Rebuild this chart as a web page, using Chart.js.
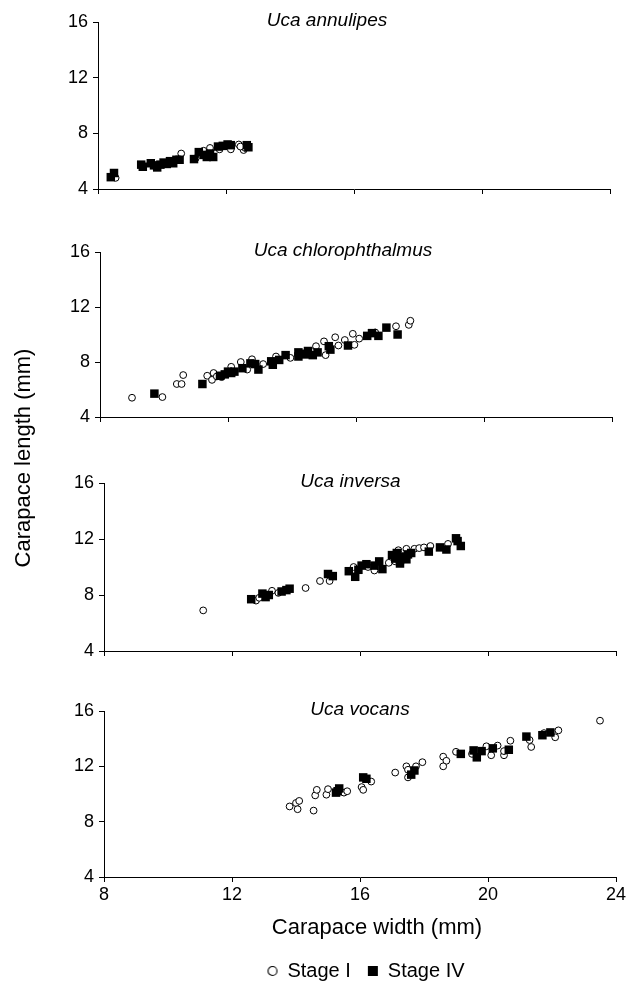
<!DOCTYPE html>
<html>
<head>
<meta charset="utf-8">
<script src="https://cdn.jsdelivr.net/npm/chart.js@4.4.1/dist/chart.umd.min.js"></script>
<style>
html,body{margin:0;padding:0;background:#fff;overflow:hidden;width:634px;height:983px;position:relative;}
canvas{position:absolute;left:0;top:0;}
</style>
</head>
<body>
<canvas id="c1" width="634" height="983"></canvas>
<canvas id="c2" width="634" height="983"></canvas>
<canvas id="c3" width="634" height="983"></canvas>
<canvas id="c4" width="668" height="995"></canvas>
<script>
// ---------- data ----------
const speciesNames = ['Uca annulipes', 'Uca chlorophthalmus', 'Uca inversa', 'Uca vocans'];
const seriesNames = ['Stage I', 'Stage IV'];
const xTickValues = [8, 12, 16, 20, 24];
const yTickValues = [4, 8, 12, 16];
const xAxisTitle = 'Carapace width (mm)';
const yAxisTitle = 'Carapace length (mm)';

// [carapace width, carapace length]
const annulipesStageI = [
  [8.55,4.8],[10.2,5.95],[10.6,6.55],[11.05,6.2],[11.3,6.75],[11.5,6.95],[11.45,6.45],
  [11.8,6.85],[12.15,6.85],[12.4,7.2],[12.55,6.8],[12.6,6.95],[12.45,7.05]
];
const annulipesStageIV = [
  [8.4,4.85],[8.5,5.15],[9.35,5.75],[9.4,5.6],[9.65,5.85],[9.75,5.7],[9.85,5.55],[9.95,5.75],
  [10.05,5.9],[10.15,5.8],[10.25,6.0],[10.35,5.85],[10.45,6.1],[10.55,6.1],[11.0,6.15],
  [11.15,6.65],[11.3,6.45],[11.4,6.3],[11.5,6.55],[11.6,6.3],[11.75,7.05],[11.9,7.1],
  [12.05,7.2],[12.15,7.15],[12.65,7.15],[12.7,7.0]
];
const chlorophthalmusStageI = [
  [9.0,5.4],[9.95,5.45],[10.4,6.4],[10.55,6.4],[10.6,7.05],[11.35,7.0],[11.5,6.7],[11.55,7.2],
  [11.65,6.95],[11.8,6.9],[12.1,7.65],[12.4,8.0],[12.6,7.45],[12.75,8.2],[13.1,7.85],[13.5,8.4],
  [13.95,8.3],[14.75,9.15],[15.0,9.5],[15.05,8.5],[15.35,9.8],[15.45,9.2],[15.65,9.6],[15.9,10.05],
  [15.95,9.25],[16.1,9.7],[16.6,10.15],[17.25,10.6],[17.65,10.7],[17.7,11.0],[14.6,8.8]
];
const chlorophthalmusStageIV = [
  [9.7,5.7],[11.2,6.4],[11.75,7.0],[11.9,7.1],[12.0,7.3],[12.1,7.2],[12.2,7.3],[12.45,7.55],
  [12.7,7.9],[12.85,7.85],[12.95,7.45],[13.35,8.05],[13.4,7.8],[13.6,8.15],[13.8,8.5],[14.2,8.7],
  [14.35,8.6],[14.5,8.8],[14.2,8.4],[14.4,8.55],[14.65,8.5],[14.8,8.7],[15.15,9.15],[15.2,8.9],
  [15.75,9.2],[16.35,9.9],[16.5,10.1],[16.7,9.9],[16.95,10.5],[17.3,10.0]
];
const inversaStageI = [
  [11.1,6.9],[12.75,7.6],[12.85,7.8],[13.25,8.3],[13.45,8.15],[14.3,8.5],[14.75,9.0],[15.05,9.0],
  [15.8,10.0],[16.25,10.0],[16.45,9.75],[16.9,10.3],[17.1,10.4],[17.2,11.2],[17.45,11.3],
  [17.7,11.3],[17.85,11.35],[18.0,11.4],[18.2,11.5],[18.75,11.65]
];
const inversaStageIV = [
  [12.6,7.7],[12.95,8.1],[13.05,7.85],[13.15,8.0],[13.55,8.25],[13.7,8.35],[13.8,8.45],[15.0,9.5],
  [15.15,9.35],[15.65,9.7],[15.85,9.3],[15.95,9.8],[16.05,10.1],[16.2,10.2],[16.45,10.1],
  [16.6,10.4],[16.7,9.85],[17.0,10.85],[17.1,10.6],[17.15,11.0],[17.25,10.5],[17.25,10.25],
  [17.35,10.75],[17.45,10.55],[17.5,10.9],[17.6,11.0],[18.15,11.1],[18.5,11.4],[18.7,11.25],
  [19.0,12.05],[19.05,11.85],[19.15,11.5]
];
const vocansStageI = [
  [13.8,9.1],[14.0,9.35],[14.05,8.9],[14.1,9.5],[14.55,8.8],[14.6,9.9],[14.65,10.3],[14.95,9.95],
  [15.0,10.35],[15.5,10.1],[15.6,10.2],[16.05,10.5],[16.1,10.3],[16.35,10.9],[17.1,11.55],
  [17.45,12.0],[17.5,11.75],[17.5,11.2],[17.75,12.0],[17.95,12.3],[18.6,12.7],[18.7,12.4],
  [18.6,12.0],[19.0,13.05],[19.5,12.9],[19.95,13.45],[20.1,12.8],[20.3,13.5],[20.5,12.8],
  [20.5,13.1],[20.7,13.85],[21.3,13.9],[21.35,13.4],[21.75,14.4],[22.1,14.1],[22.2,14.6],[23.5,15.3]
];
const vocansStageIV = [
  [15.25,10.1],[15.3,10.2],[15.35,10.4],[16.1,11.2],[16.2,11.1],[17.6,11.4],[17.7,11.7],
  [19.15,12.9],[19.55,13.15],[19.65,12.65],[19.8,13.1],[20.15,13.3],[20.65,13.2],[21.2,14.15],
  [21.7,14.25],[21.95,14.45]
];

// ---------- layout / style ----------
const FONT = '"Liberation Sans", Arial, Helvetica, sans-serif';
const INK = '#000';
const panels = [
  {id: 'c1', left: 98,  top: 22,  bottom: 189, titleX: 327,   data: [annulipesStageI, annulipesStageIV]},
  {id: 'c2', left: 100, top: 252, bottom: 417, titleX: 343,   data: [chlorophthalmusStageI, chlorophthalmusStageIV]},
  {id: 'c3', left: 104, top: 483, bottom: 651, titleX: 350.5, data: [inversaStageI, inversaStageIV]},
  {id: 'c4', left: 104, top: 711, bottom: 877, titleX: 360,   data: [vocansStageI, vocansStageIV]}
];
const PLOT_W = 512, Y_AXIS_W = 40, TICK_LEN = 5;
const LAST_X_AXIS_H = 67, LEGEND_H = 47;

function markerCanvas(kind) {
  const c = document.createElement('canvas');
  c.width = 12; c.height = 12;
  const g = c.getContext('2d');
  if (kind === 'circle') {
    g.beginPath(); g.arc(6, 6, 4.5, 0, Math.PI * 2);
    g.fillStyle = '#fff'; g.fill();
    g.lineWidth = 1.1; g.strokeStyle = INK; g.stroke();
  } else {
    g.fillStyle = INK; g.fillRect(1, 1, 10, 10);
  }
  return c;
}
const legendMarkers = [markerCanvas('circle'), markerCanvas('square')];

const panelTitlePlugin = {
  id: 'panelTitle',
  afterDraw(chart, args, opts) {
    if (!opts || !opts.text) return;
    const ctx = chart.ctx;
    ctx.save();
    ctx.font = 'italic 19px ' + FONT;
    ctx.fillStyle = INK;
    ctx.textAlign = 'center';
    ctx.textBaseline = 'middle';
    ctx.fillText(opts.text, opts.x, chart.chartArea.top + opts.dy);
    ctx.restore();
  }
};
const figureLabelsPlugin = {
  id: 'figureLabels',
  afterDraw(chart, args, opts) {
    if (!opts || !opts.show) return;
    const ctx = chart.ctx;
    ctx.save();
    ctx.font = '22px ' + FONT;
    ctx.fillStyle = INK;
    ctx.textAlign = 'center';
    ctx.textBaseline = 'middle';
    ctx.fillText(xAxisTitle, opts.xTitleX, opts.xTitleY);
    ctx.translate(opts.yTitleX, opts.yTitleY);
    ctx.rotate(-Math.PI / 2);
    ctx.fillText(yAxisTitle, 0, 0);
    ctx.restore();
  }
};

function axisCommon() {
  return {
    grid: {display: true, drawOnChartArea: false, drawTicks: true, tickLength: TICK_LEN, color: INK, lineWidth: 1},
    border: {display: true, color: INK, width: 1}
  };
}

panels.forEach((p, i) => {
  const isLast = i === panels.length - 1;
  const canvas = document.getElementById(p.id);
  const W = canvas.width, H = canvas.height;
  const right = p.left + PLOT_W;
  const xH = isLast ? LAST_X_AXIS_H : TICK_LEN;
  const rightAxisW = isLast ? (W - right) : 0;
  const padRight = isLast ? 0 : (W - right);
  const padBottom = H - p.bottom - xH - (isLast ? LEGEND_H : 0);

  const scales = {
    x: Object.assign(axisCommon(), {
      type: 'linear', position: 'bottom', min: xTickValues[0], max: xTickValues[xTickValues.length - 1],
      afterBuildTicks: s => { s.ticks = xTickValues.map(v => ({value: v})); },
      afterFit: s => { s.height = xH; },
      ticks: {display: isLast, font: {family: FONT, size: 18}, color: INK, padding: 2, maxRotation: 0, autoSkip: false}
    }),
    y: Object.assign(axisCommon(), {
      type: 'linear', position: 'left', min: yTickValues[0], max: yTickValues[yTickValues.length - 1],
      afterBuildTicks: s => { s.ticks = yTickValues.map(v => ({value: v})); },
      afterFit: s => { s.width = Y_AXIS_W; },
      ticks: {font: {family: FONT, size: 18}, color: INK, padding: 5, autoSkip: false}
    })
  };
  if (isLast) {
    scales.spacer = {
      type: 'linear', position: 'right', display: true, min: 0, max: 1,
      afterFit: s => { s.width = rightAxisW; },
      grid: {display: false}, border: {display: false}, ticks: {display: false}
    };
  }

  new Chart(canvas, {
    type: 'scatter',
    data: {
      datasets: [
        {
          label: seriesNames[0],
          data: p.data[0].map(d => ({x: d[0], y: d[1]})),
          pointStyle: 'circle', pointRadius: 3.4, pointBackgroundColor: '#fff',
          pointBorderColor: INK, pointBorderWidth: 1, order: 1
        },
        {
          label: seriesNames[1],
          data: p.data[1].map(d => ({x: d[0], y: d[1]})),
          pointStyle: 'rect', pointRadius: 6, pointBackgroundColor: INK,
          pointBorderColor: INK, pointBorderWidth: 0, order: 0
        }
      ]
    },
    options: {
      responsive: false,
      animation: false,
      devicePixelRatio: 1,
      events: [],
      layout: {padding: {left: p.left - Y_AXIS_W, right: padRight, top: p.top, bottom: padBottom}},
      scales: scales,
      plugins: {
        tooltip: {enabled: false},
        title: {display: false},
        legend: {
          display: isLast,
          position: 'bottom',
          labels: {
            usePointStyle: true, boxWidth: 10, boxHeight: 10, padding: 17,
            color: INK, font: {family: FONT, size: 20},
            generateLabels: () => seriesNames.map((name, k) => ({
              text: name, pointStyle: legendMarkers[k], fillStyle: INK, strokeStyle: INK,
              lineWidth: 1, hidden: false, datasetIndex: k, fontColor: INK
            }))
          }
        },
        panelTitle: {text: speciesNames[i], x: p.titleX, dy: -1},
        figureLabels: {show: isLast, xTitleX: 377, xTitleY: 928, yTitleX: 24, yTitleY: 458}
      }
    },
    plugins: [panelTitlePlugin, figureLabelsPlugin]
  });
});
</script>
</body>
</html>
